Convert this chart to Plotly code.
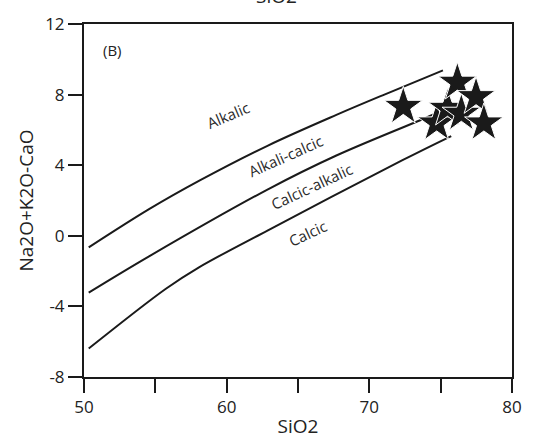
import plotly.graph_objects as go

# Boundary curves (SiO2, Na2O+K2O-CaO)
alkalic_x = [50.33, 54.59, 58.15, 62.86, 67.69, 71.14, 75.16]
alkalic_y = [-0.66, 1.52, 3.15, 5.10, 6.85, 8.03, 9.37]
alkcalcic_x = [50.33, 54.59, 62.86, 67.69, 73.9, 74.5]
alkcalcic_y = [-3.22, -1.15, 2.62, 4.55, 6.66, 6.87]
calcalk_x = [50.33, 55.74, 58.03, 62.86, 72.29, 75.74]
calcalk_y = [-6.39, -3.0, -1.8, 0.3, 4.27, 5.65]

# Samples
sample_x = [72.38, 74.72, 75.48, 76.45, 76.17, 77.48, 78.03]
sample_y = [7.32, 6.38, 7.21, 6.93, 8.69, 7.87, 6.38]

x_ticks = [50, 55, 60, 65, 70, 75, 80]
x_ticktext = ["50", "", "60", "", "70", "", "80"]
y_ticks = [-8, -4, 0, 4, 8, 12]
y_ticktext = ["-8", "-4", "0", "4", "8", "12"]

field_labels = ["Alkalic", "Alkali-calcic", "Calcic-alkalic", "Calcic"]
field_x = [60.1, 64.1, 66.0, 65.7]
field_y = [6.84, 4.51, 2.8, 0.14]
field_angle = [-23, -24, -25, -25]

ink = "#1a1a1a"
fig = go.Figure()
for xs, ys in [(alkalic_x, alkalic_y), (alkcalcic_x, alkcalcic_y), (calcalk_x, calcalk_y)]:
    fig.add_trace(go.Scatter(x=xs, y=ys, mode="lines",
                             line=dict(color=ink, width=2, shape="spline", smoothing=1.0),
                             showlegend=False, hoverinfo="skip"))

fig.add_trace(go.Scatter(x=sample_x, y=sample_y, mode="markers",
                         marker=dict(symbol="star", size=29, color=ink,
                                     line=dict(color="white", width=1)),
                         showlegend=False))

for t, x, y, a in zip(field_labels, field_x, field_y, field_angle):
    fig.add_annotation(x=x, y=y, text=t, showarrow=False, textangle=a,
                       font=dict(family="Open Sans", size=15, color="#2a2a2a"))

fig.add_annotation(x=51.2, y=10.5, text="(B)", showarrow=False, xanchor="left",
                   font=dict(family="Open Sans", size=15, color="#222222"))

fig.add_annotation(xref="paper", yref="paper", x=0.45, y=1.036, yanchor="bottom",
                   text="SiO2", showarrow=False,
                   font=dict(family="Open Sans", size=19, color="#222222"))

axis_common = dict(showline=True, linecolor=ink, linewidth=2, mirror=True,
                   ticks="outside", ticklen=14, tickwidth=2, tickcolor=ink,
                   showgrid=False, zeroline=False,
                   tickfont=dict(family="Open Sans", size=17, color="#222222"))

fig.update_layout(
    width=534, height=446,
    margin=dict(l=84, r=15, t=18, b=65),
    plot_bgcolor="white", paper_bgcolor="white",
    xaxis=dict(range=[50, 80], tickvals=x_ticks, ticktext=x_ticktext,
               title=dict(text="SiO2", standoff=2,
                          font=dict(family="Open Sans", size=19, color="#222222")),
               **axis_common),
    yaxis=dict(range=[-8, 12], tickvals=y_ticks, ticktext=y_ticktext,
               title=dict(text="Na2O+K2O-CaO", standoff=6,
                          font=dict(family="Open Sans", size=19, color="#222222")),
               **axis_common),
)

fig.write_html("out.html")
